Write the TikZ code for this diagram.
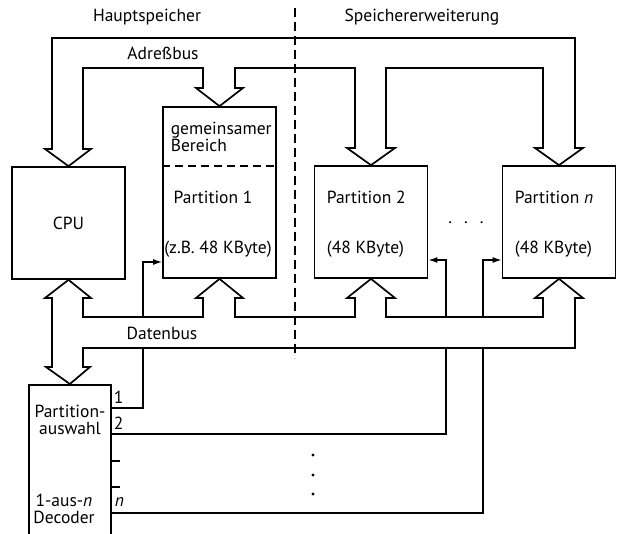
\documentclass[tikz,border=0pt]{standalone}
\usepackage{fontspec}
\setmainfont{PT Sans}
\usetikzlibrary{positioning, arrows.meta}

\begin{document}
\begin{tikzpicture}[x=1pt, y=-1pt, line width=1.7pt,
    every node/.style={inner sep=0pt, font=\fontsize{17.5}{20}\selectfont},
    box/.style={draw, rectangle, minimum width=113pt},
    sel/.style={line width=1.4pt},
    >={Latex[length=9pt,width=6pt]}]
  \clip (0,0) rectangle (619,534);
  \node[box, minimum height=112pt] (cpu) at (68.5,223) {CPU};
  \node[box, minimum height=171pt] (p1) at (219.5,192.5) {};
  \node[box, minimum height=112pt] (p2) at (371,222) {};
  \node[box, minimum height=112pt] (pn) at (559,222) {};
  \node[draw, rectangle, minimum width=82pt, minimum height=170pt, anchor=north west] (dec) at (28,384) {};
  \draw[dash pattern=on 8pt off 5pt, line width=1.4pt] (p1.west |- 0,166) -- (p1.east |- 0,166);
  \node[align=left, anchor=west] (gem) at (170,137) {gemeinsamer\\[-3pt]Bereich};
  \node (t1) at (213,197) {Partition 1};
  \node (s1) at (218,249) {(z.B. 48 KByte)};
  \node[anchor=west] (t2) at (326,197) {Partition 2};
  \node[anchor=west] (s2) at (326,249) {(48 KByte)};
  \node[anchor=west] (tn) at (514,197) {Partition \textit{n}};
  \node[anchor=west] (sn) at (514,249) {(48 KByte)};
  \node (dots) at (466,223) {.\hspace{12pt}.\hspace{12pt}.};
  \node (hs) at (147,17) {Hauptspeicher};
  \node (se) at (422,17) {Speichererweiterung};
  \node (ab) at (163,53) {Adreßbus};
  \node (db) at (162,333) {Datenbus};
  \node[align=center] (pa) at (70,420) {Partition-\\[-3pt]auswahl};
  \node[align=center] (de) at (64,509) {1-aus-\textit{n}\\[-3pt]Decoder};
  \node[anchor=west] (l1) at (113,397) {1};
  \node[anchor=west] (l2) at (113,423) {2};
  \node[anchor=west] (ln) at (114,502) {\textit{n}};
  \draw[dash pattern=on 9pt off 5pt, line width=1.2pt] (295,8) -- (295,358);
  % Adressbus
  \draw (cpu.north) -- (45,149) -- (52,149) -- (52,38) -- (575,38) -- (575,148)
    -- (583,148) -- (pn.north) -- (535,148) -- (543,148) -- (543,68) -- (386,68)
    -- (386,148) -- (395,148) -- (p2.north) -- (347,148) -- (355,148) -- (355,68)
    -- (235,68) -- (235,88) -- (243,88) -- (p1.north) -- (196,88) -- (203,88)
    -- (203,68) -- (83,68) -- (83,149) -- (91,149) -- cycle;
  % Datenbus
  \draw (cpu.south) -- (91,298) -- (83,298) -- (83,317) -- (203,317) -- (203,298)
    -- (196,298) -- (p1.south) -- (243,298) -- (235,298) -- (235,317) -- (355,317)
    -- (355,298) -- (347,298) -- (p2.south) -- (395,298) -- (386,298) -- (386,317)
    -- (543,317) -- (543,298) -- (535,298) -- (pn.south) -- (583,298) -- (575,298)
    -- (575,348) -- (83,348) -- (83,367) -- (90,367) -- (dec.north) -- (46,367)
    -- (52,367) -- (52,298) -- (45,298) -- cycle;
  % Auswahlleitungen
  \coordinate (o1) at (110,408);
  \coordinate (o2) at (110,434);
  \coordinate (on) at (110,513);
  \draw[sel] (o1) -| (143,348);
  \draw[sel] (o2) -| (446,348);
  \draw[sel] (on) -| (483,348);
  \draw[sel,->] (143,317) |- (p1.west |- 0,262);
  \draw[sel,->] (446,317) |- (p2.east |- 0,260);
  \draw[sel,->] (483,317) |- (pn.west |- 0,260);
  \draw[sel] (110,461) -- (120,461);
  \draw[sel] (110,487) -- (120,487);
  \foreach \y in {455,475,494} \fill (313,\y) circle (1.6pt);
\end{tikzpicture}
\end{document}
